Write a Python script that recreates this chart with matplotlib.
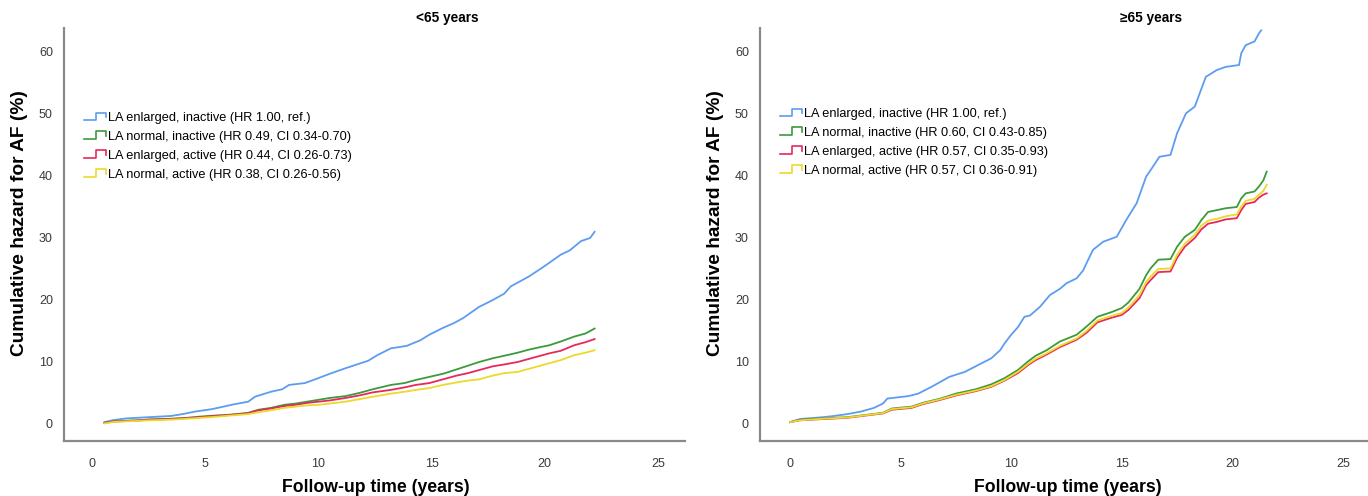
import matplotlib
matplotlib.use("Agg")
import matplotlib.pyplot as plt
from matplotlib.legend_handler import HandlerBase
from matplotlib.lines import Line2D

# ---- data (cumulative hazard, %) ----
labels_young = [
    "LA enlarged, inactive (HR 1.00, ref.)",
    "LA normal, inactive (HR 0.49, CI 0.34-0.70)",
    "LA enlarged, active (HR 0.44, CI 0.26-0.73)",
    "LA normal, active (HR 0.38, CI 0.26-0.56)",
]
labels_old = [
    "LA enlarged, inactive (HR 1.00, ref.)",
    "LA normal, inactive (HR 0.60, CI 0.43-0.85)",
    "LA enlarged, active (HR 0.57, CI 0.35-0.93)",
    "LA normal, active (HR 0.57, CI 0.36-0.91)",
]
colors = ["#5d9cf0", "#3c9a3c", "#e8285a", "#ecd92a"]

# <65 years
t_young_blue = [0.55, 0.9, 1.5, 2.5, 3.5, 4.0, 4.55, 5.3, 5.8, 6.3, 6.9, 7.2, 7.9, 8.4,
                8.7, 9.4, 10.0, 10.5, 11.2, 11.7, 12.2, 12.6, 13.2, 13.9, 14.5, 14.9,
                15.5, 16.0, 16.4, 17.1, 17.6, 18.2, 18.5, 18.8, 19.3, 19.8, 20.2, 20.7,
                21.1, 21.6, 22.0, 22.2]
v_young_blue = [0.3, 0.6, 0.9, 1.1, 1.3, 1.6, 2.0, 2.4, 2.8, 3.2, 3.6, 4.4, 5.2, 5.6,
                6.3, 6.6, 7.4, 8.1, 9.0, 9.6, 10.2, 11.1, 12.2, 12.6, 13.5, 14.4,
                15.5, 16.3, 17.1, 18.9, 19.8, 21.0, 22.2, 22.8, 23.8, 25.0, 26.0, 27.3,
                28.0, 29.5, 30.0, 31.0]

t_young = [0.55, 1.0, 2.0, 2.6, 3.5, 4.2, 4.8, 5.4, 5.9, 6.4, 6.9, 7.35, 7.9, 8.5, 9.0,
           9.5, 10.0, 10.5, 11.2, 11.8, 12.4, 13.2, 13.8, 14.3, 14.9, 15.5, 16.1, 16.6,
           17.1, 17.7, 18.2, 18.8, 19.3, 19.8, 20.2, 20.7, 21.3, 21.8, 22.2]
v_young_green = [0.2, 0.45, 0.6, 0.75, 0.85, 1.0, 1.2, 1.35, 1.45, 1.6, 1.8, 2.3, 2.6,
                 3.1, 3.3, 3.6, 3.9, 4.2, 4.5, 5.0, 5.6, 6.3, 6.6, 7.1, 7.6, 8.1, 8.8,
                 9.4, 10.0, 10.6, 11.0, 11.5, 12.0, 12.4, 12.7, 13.3, 14.1, 14.6, 15.4]
v_young_red = [0.2, 0.4, 0.55, 0.7, 0.8, 0.95, 1.1, 1.3, 1.4, 1.55, 1.75, 2.2, 2.5,
               2.9, 3.1, 3.4, 3.6, 3.8, 4.2, 4.6, 5.1, 5.5, 5.9, 6.3, 6.6, 7.2, 7.8,
               8.2, 8.7, 9.3, 9.6, 10.0, 10.5, 11.0, 11.4, 11.8, 12.7, 13.2, 13.7]
v_young_yellow = [0.1, 0.35, 0.5, 0.6, 0.7, 0.85, 1.0, 1.15, 1.3, 1.45, 1.6, 1.9, 2.2,
                  2.6, 2.8, 3.0, 3.1, 3.3, 3.6, 4.0, 4.4, 4.9, 5.2, 5.5, 5.8, 6.3, 6.7,
                  7.0, 7.2, 7.8, 8.2, 8.4, 8.9, 9.4, 9.8, 10.3, 11.1, 11.5, 11.9]

# >=65 years
t_old_blue = [0.0, 0.45, 1.5, 2.0, 2.6, 3.2, 3.8, 4.2, 4.4, 5.35, 5.8, 6.4, 6.8, 7.2,
              7.9, 8.5, 9.1, 9.5, 9.7, 10.0, 10.3, 10.6, 10.85, 11.3, 11.75, 12.2, 12.5,
              12.96, 13.26, 13.4, 13.7, 14.16, 14.77, 15.2, 15.67, 16.1, 16.35, 16.7,
              17.2, 17.5, 17.9, 18.3, 18.8, 19.3, 19.7, 20.3, 20.4, 20.6, 21.0, 21.2,
              21.3]
v_old_blue = [0.3, 0.8, 1.1, 1.3, 1.6, 2.0, 2.6, 3.3, 4.1, 4.5, 4.9, 6.0, 6.8, 7.6,
              8.4, 9.5, 10.6, 11.9, 13.0, 14.4, 15.6, 17.3, 17.5, 18.9, 20.8, 21.8, 22.7,
              23.5, 24.8, 25.9, 28.1, 29.4, 30.2, 32.9, 35.6, 39.9, 41.2, 43.1,
              43.4, 46.9, 50.1, 51.2, 56.0, 57.1, 57.6, 57.9, 59.8, 61.1, 61.7, 63.0,
              63.5]

t_old = [0.0, 0.45, 1.5, 2.6, 3.5, 4.2, 4.6, 5.5, 6.0, 6.8, 7.5, 8.4, 9.1, 9.7, 10.3,
         10.8, 11.1, 11.6, 12.2, 12.96, 13.4, 13.9, 14.5, 15.0, 15.3, 15.8, 16.1, 16.3,
         16.65, 17.2, 17.5, 17.85, 18.3, 18.6, 18.9, 19.3, 19.7, 20.2, 20.4, 20.6, 21.0,
         21.2, 21.4, 21.55]
v_old_green = [0.3, 0.7, 0.9, 1.1, 1.5, 1.8, 2.5, 2.8, 3.4, 4.1, 4.9, 5.6, 6.4, 7.4,
               8.7, 10.2, 11.0, 11.9, 13.3, 14.4, 15.7, 17.3, 18.0, 18.7, 19.6, 21.8,
               24.0, 25.1, 26.5, 26.6, 28.6, 30.2, 31.3, 32.9, 34.2, 34.5, 34.8, 35.0,
               36.4, 37.2, 37.5, 38.3, 39.3, 40.7]
v_old_red = [0.3, 0.6, 0.8, 1.0, 1.4, 1.7, 2.3, 2.6, 3.2, 3.9, 4.6, 5.3, 6.0, 7.0,
             8.2, 9.6, 10.3, 11.2, 12.4, 13.6, 14.7, 16.4, 17.1, 17.6, 18.4, 20.3,
             22.4, 23.2, 24.5, 24.6, 26.8, 28.6, 30.0, 31.4, 32.3, 32.6, 33.0, 33.2,
             34.5, 35.5, 35.8, 36.5, 37.0, 37.2]
v_old_yellow = [0.3, 0.6, 0.85, 1.05, 1.45, 1.75, 2.4, 2.7, 3.3, 4.0, 4.7, 5.4, 6.1,
                7.1, 8.4, 9.8, 10.5, 11.4, 12.6, 13.8, 15.0, 16.7, 17.4, 17.9, 18.8,
                20.8, 22.9, 23.8, 25.0, 25.1, 27.3, 29.1, 30.5, 32.0, 32.8, 33.1, 33.5,
                33.8, 35.1, 36.0, 36.3, 37.0, 37.6, 38.6]


class StepHandler(HandlerBase):
    # legend key drawn as a small step, like the SPSS output
    def create_artists(self, legend, orig_handle, xdescent, ydescent,
                       width, height, fontsize, trans):
        x0 = -xdescent
        y0 = -ydescent
        xs = [x0, x0 + 0.55 * width, x0 + 0.55 * width, x0 + width, x0 + width]
        ys = [y0 + 0.1 * height, y0 + 0.1 * height, y0 + 0.95 * height,
              y0 + 0.95 * height, y0 + 0.45 * height]
        ln = Line2D(xs, ys, color=orig_handle.get_color(), lw=1.2, transform=trans)
        return [ln]


sans = ["Liberation Sans", "DejaVu Sans"]
W, H = 1368, 496
fig = plt.figure(figsize=(W / 100, H / 100), dpi=100)

panels = [
    dict(px=(64, 685), x0px=92, pxyr=22.64, title="<65 years", tx=447,
         ylx=20, xlx=376, legx=84, legy=112, labels=labels_young,
         series=[(t_young_blue, v_young_blue), (t_young, v_young_green),
                 (t_young, v_young_red), (t_young, v_young_yellow)]),
    dict(px=(760, 1368), x0px=790, pxyr=22.12, title="\u226565 years", tx=1151,
         ylx=715, xlx=1068, legx=780, legy=108, labels=labels_old,
         series=[(t_old_blue, v_old_blue), (t_old, v_old_green),
                 (t_old, v_old_red), (t_old, v_old_yellow)]),
]

y_bot_px = 441
y0_px = 424
px_per_unit = 6.2
ymin = -(y_bot_px - y0_px) / px_per_unit
ymax = 63.8
y_top_px = y0_px - ymax * px_per_unit

for p in panels:
    l, r = p["px"]
    ax = fig.add_axes([l / W, 1 - y_bot_px / H, (r - l) / W, (y_bot_px - y_top_px) / H])
    handles = []
    for (t, v), c in zip(p["series"], colors):
        h, = ax.plot(t, v, color=c, lw=1.3)
        handles.append(h)
    ax.set_xlim(-(p["x0px"] - l) / p["pxyr"], (r - p["x0px"]) / p["pxyr"])
    ax.set_ylim(ymin, ymax)
    ax.set_xticks([0, 5, 10, 15, 20, 25])
    ax.set_yticks([0, 10, 20, 30, 40, 50, 60])
    for s in ["top", "right"]:
        ax.spines[s].set_visible(False)
    for s in ["left", "bottom"]:
        ax.spines[s].set_color("#8a8a8a")
        ax.spines[s].set_linewidth(1.6)
    ax.tick_params(length=0, colors="#3a3a3a", labelsize=9)
    ax.tick_params(axis="x", pad=12)
    ax.tick_params(axis="y", pad=8)
    for lab in ax.get_xticklabels() + ax.get_yticklabels():
        lab.set_family(sans)

    fig.text(p["tx"] / W, 1 - 18 / H, p["title"], ha="center", va="center",
             fontsize=9.8, fontweight="bold", family=sans)
    fig.text(p["ylx"] / W, 1 - 223 / H, "Cumulative hazard for AF (%)", rotation=90,
             ha="center", va="center", fontsize=13.8, fontweight="bold", family=sans)
    fig.text(p["xlx"] / W, 1 - 487 / H, "Follow-up time (years)", ha="center",
             va="center", fontsize=12.7, fontweight="bold", family=sans)

    ax.legend(handles, p["labels"], loc="upper left",
              bbox_to_anchor=(p["legx"] / W, 1 - p["legy"] / H),
              bbox_transform=fig.transFigure, frameon=False, borderpad=0,
              borderaxespad=0, handlelength=1.7, handletextpad=0.15,
              labelspacing=0.54, handler_map={Line2D: StepHandler()},
              prop={"family": sans, "size": 9.2})

fig.savefig("out.png", dpi=100)
